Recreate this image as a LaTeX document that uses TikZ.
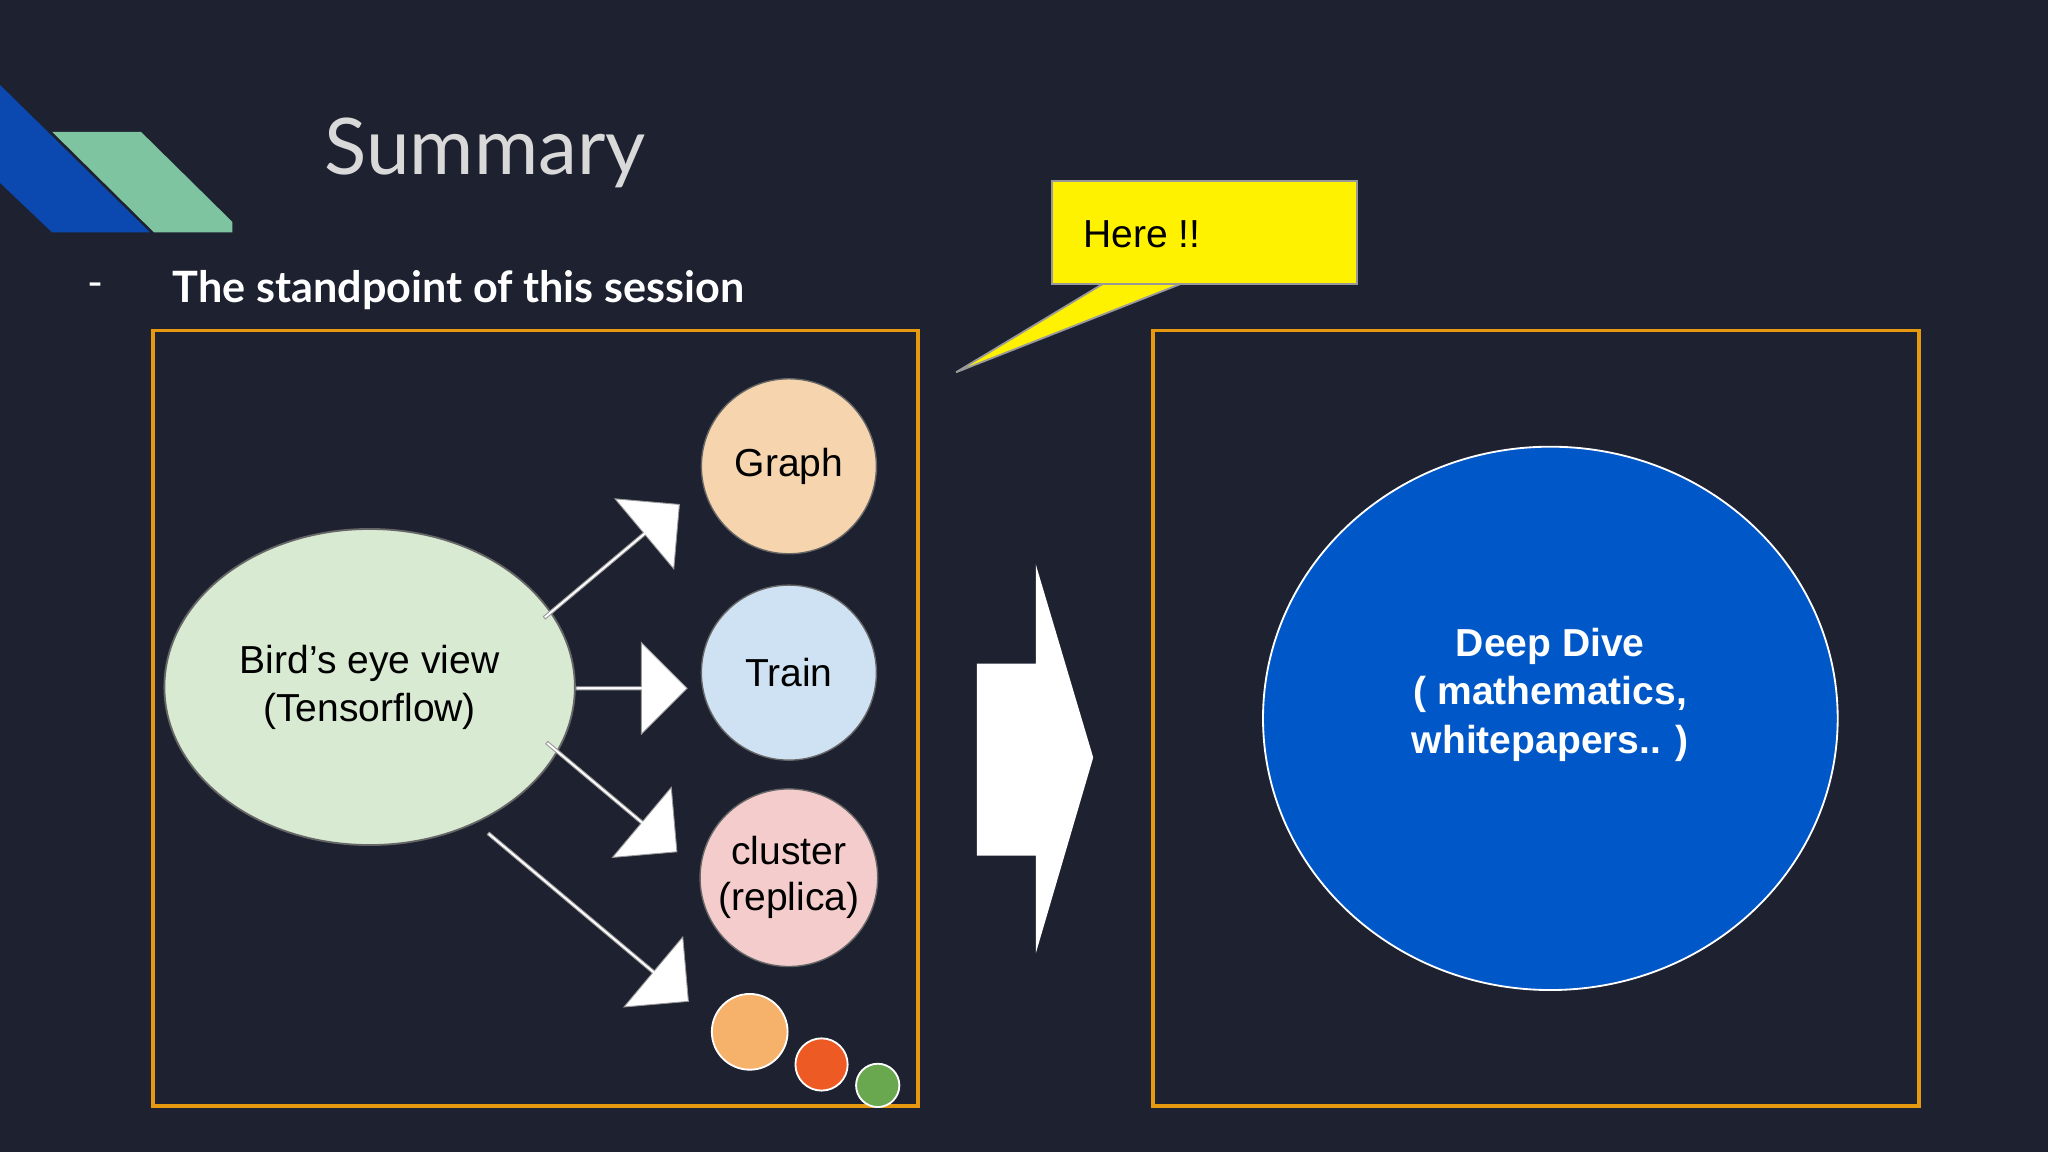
\documentclass[tikz,border=0pt]{standalone}
\usepackage{fontspec}
\setmainfont{Liberation Sans}
\newfontfamily\lato{Lato}
\usetikzlibrary{shapes.arrows,shapes.geometric}
\definecolor{bg}{HTML}{1E2130}
\definecolor{frameor}{HTML}{E6980F}
\definecolor{decblue}{HTML}{0B49B0}
\definecolor{decgreen}{HTML}{7FC4A0}
\definecolor{deep}{HTML}{0058C8}
\tikzset{
  frame/.style={draw=frameor, line width=0.8pt},
  bub/.style={circle, draw=black!60, line width=0.3pt, minimum size=134*0.01cm, inner sep=0pt, align=center, font=\fontsize{8.5}{10}\selectfont},
  bigarr/.style={single arrow, fill=white, draw=black!40, line width=0.2pt, minimum width=70*0.01cm, single arrow head extend=0.1cm, inner sep=0pt},
}
\begin{document}
\begin{tikzpicture}[x=0.01cm,y=-0.01cm]
\fill[bg] (0,0) rectangle (1568,882);
\useasboundingbox (0,0) rectangle (1568,882);
% decoration
\fill[decblue] (0,65) -- (115,178) -- (40,178) -- (0,140) -- cycle;
\fill[decgreen] (40,101) -- (108,101) -- (178,170) -- (178,178) -- (118,178) -- cycle;
\node[anchor=west, text=black!15, font=\lato\fontsize{17}{20}\selectfont] (title) at (236,117) {Summary};
\node[text=white, font=\lato\fontsize{9.4}{11}\selectfont] (dash) at (73,222) {-};
\node[anchor=west, text=white, font=\lato\bfseries\fontsize{9.4}{11}\selectfont] (sub) at (120,222) {The standpoint of this session};
% frames
\draw[frame] (117,253) rectangle (703,847);
\draw[frame] (883,253) rectangle (1469,847);
% bubbles
\node[ellipse, draw=black!60, fill={rgb,255:red,217;green,234;blue,211}, minimum width=256*0.01cm, minimum height=242*0.01cm, align=center, font=\fontsize{8.5}{10.5}\selectfont] (bird) at (283,526) {Bird's eye view\\(Tensorflow)};
\node[bub, fill={rgb,255:red,246;green,213;blue,174}] (graph) at (604,357) {Graph};
\node[bub, fill={rgb,255:red,207;green,226;blue,243}] (train) at (604,515) {Train};
\node[bub, fill={rgb,255:red,244;green,204;blue,204}, minimum size=136*0.01cm] (cluster) at (604,672) {cluster\\(replica)};
\node[circle, draw=white, fill={rgb,255:red,246;green,178;blue,107}, minimum size=58*0.01cm] (s1) at (574,790) {};
\node[circle, draw=white, fill={rgb,255:red,238;green,90;blue,36}, minimum size=40*0.01cm] (s2) at (629,815) {};
\node[circle, draw=white, fill={rgb,255:red,106;green,168;blue,79}, minimum size=20*0.01cm] (s3) at (672,831) {};
% arrows
\node[bigarr, minimum height=135*0.01cm, rotate=40] (a1) at (468,430) {};
\node[bigarr, minimum height=85*0.01cm] (a2) at (483,527) {};
\node[bigarr, minimum height=130*0.01cm, rotate=-40] (a3) at (468,610) {};
\node[bigarr, minimum height=200*0.01cm, rotate=-40] (a4) at (450,702) {};
% big arrow
\fill[white] (748,508) -- (793,508) -- (793,432) -- (837,580) -- (793,730) -- (793,655) -- (748,655) -- cycle;
% callout
\fill[yellow, draw=black!40] (845,217) -- (732,285) -- (905,217) -- cycle;
\node[draw=black!40, fill=yellow, minimum width=233*0.01cm, minimum height=79*0.01cm, anchor=north west] (here) at (805,138) {};
\node[anchor=west, font=\fontsize{8.5}{10}\selectfont] (heretxt) at (817,179) {Here !!};
% deep dive
\node[ellipse, draw=white, fill=deep, minimum width=440*0.01cm, minimum height=416*0.01cm] (deepd) at (1187,550) {};
\node[align=center, text=white, font=\bfseries\fontsize{8.5}{10.5}\selectfont] (deeptxt) at (1187,532) {Deep Dive\\( mathematics,\\whitepapers.. )};
\end{tikzpicture}
\end{document}
